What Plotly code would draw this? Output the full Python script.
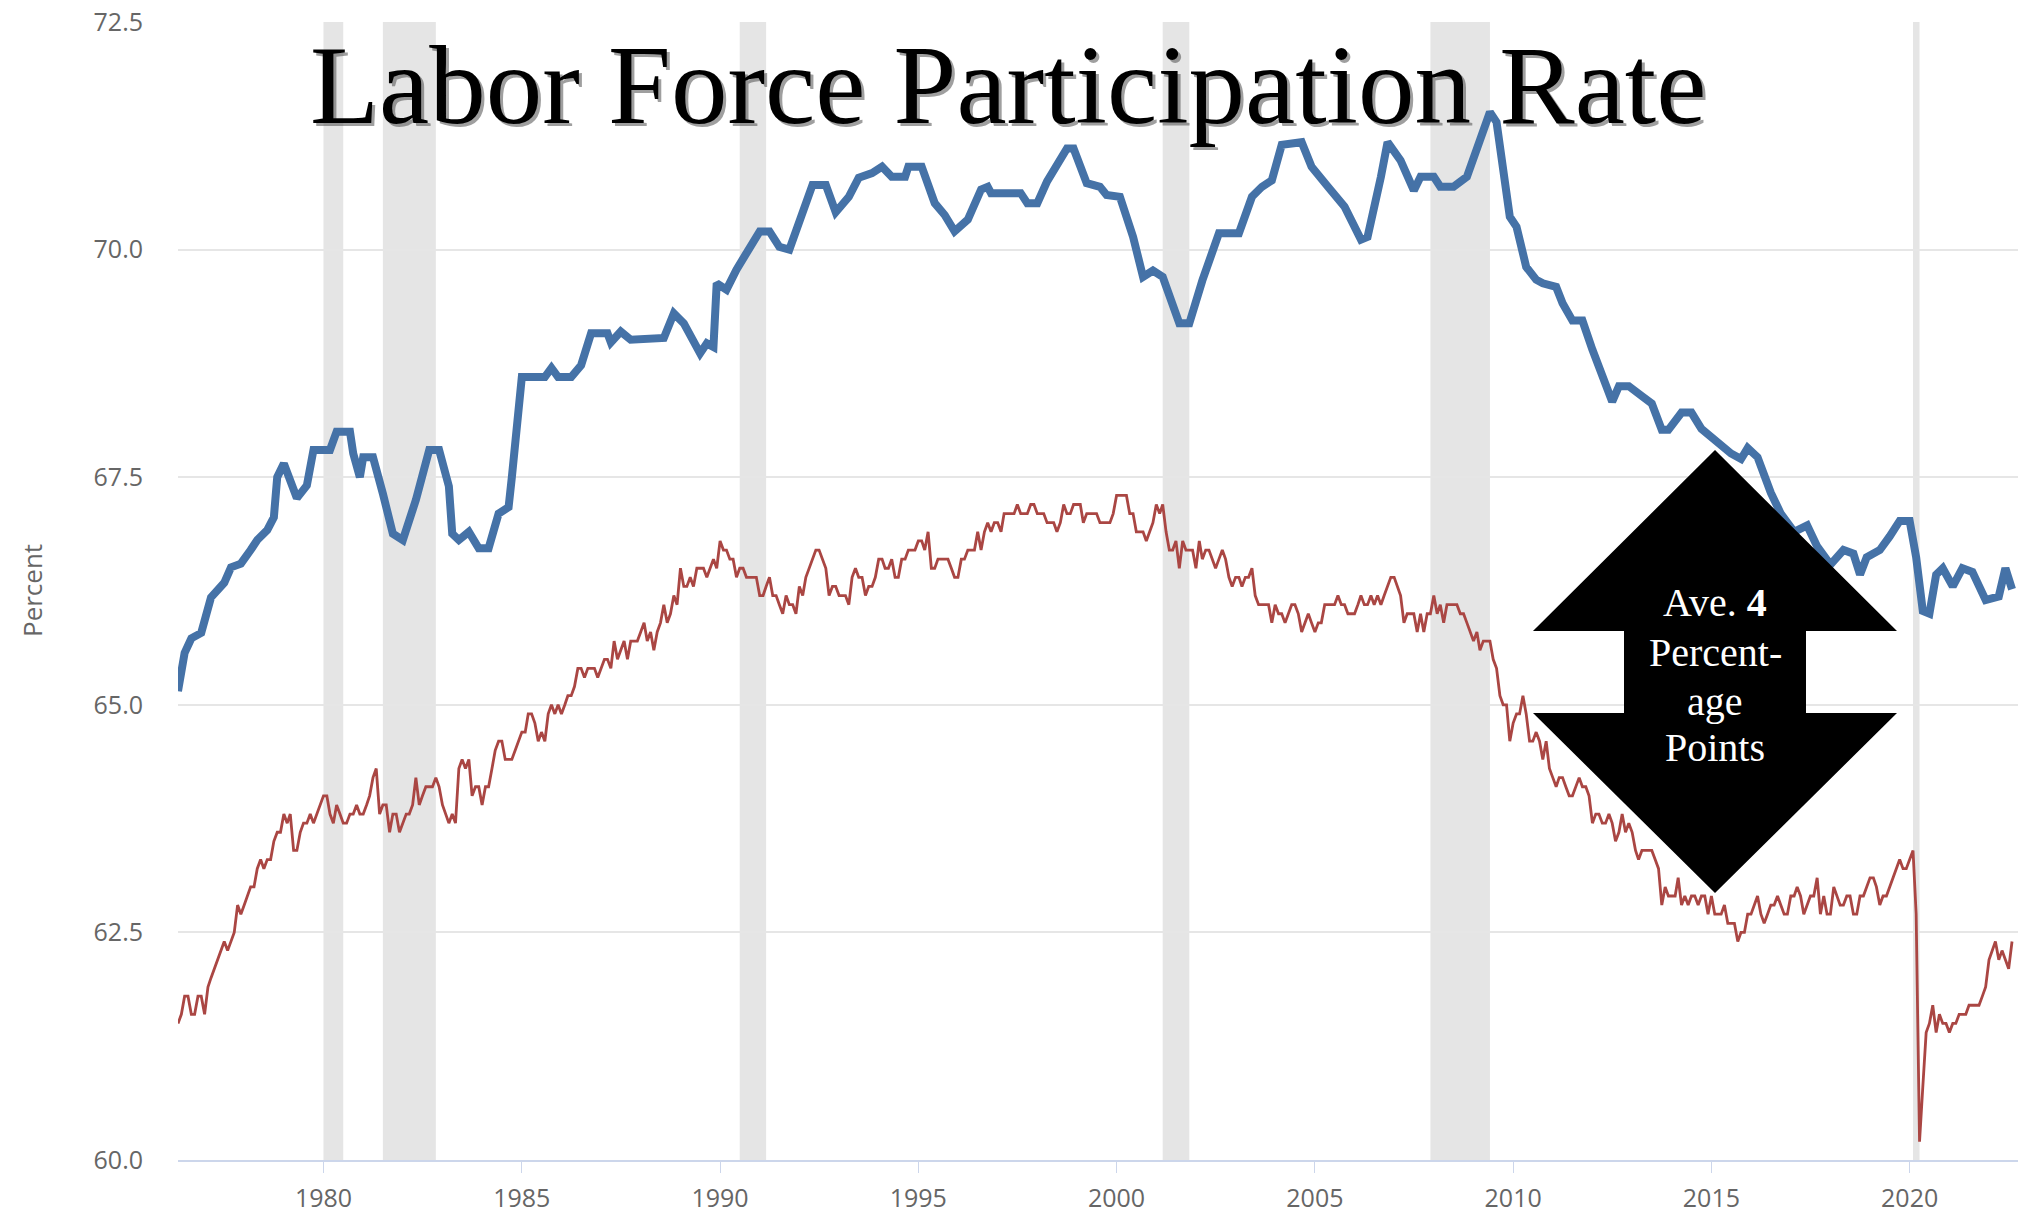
import pandas as pd
import plotly.graph_objects as go

# ---------------- data ----------------
# Civilian labour force participation rate (red), monthly from May 1976
civ_1976_1979 = [61.5, 61.6, 61.8, 61.8, 61.6, 61.6, 61.8, 61.8,
                 61.6, 61.9, 62.0, 62.1, 62.2, 62.3, 62.4, 62.3, 62.4, 62.5, 62.8, 62.7,
                 62.8, 62.9, 63.0, 63.0, 63.2, 63.3, 63.2, 63.3, 63.3, 63.5, 63.6, 63.6,
                 63.8, 63.7, 63.8, 63.4, 63.4, 63.6, 63.7, 63.7, 63.8, 63.7, 63.8, 63.9]
civ_1980s = [64.0, 64.0, 63.8, 63.7, 63.9, 63.8, 63.7, 63.7, 63.8, 63.8, 63.9, 63.8,
             63.8, 63.9, 64.0, 64.2, 64.3, 63.8, 63.9, 63.9, 63.6, 63.8, 63.8, 63.6,
             63.7, 63.8, 63.8, 63.9, 64.2, 63.9, 64.0, 64.1, 64.1, 64.1, 64.2, 64.1,
             63.9, 63.8, 63.7, 63.8, 63.7, 64.3, 64.4, 64.3, 64.4, 64.0, 64.1, 64.1,
             63.9, 64.1, 64.1, 64.3, 64.5, 64.6, 64.6, 64.4, 64.4, 64.4, 64.5, 64.6,
             64.7, 64.7, 64.9, 64.9, 64.8, 64.6, 64.7, 64.6, 64.9, 65.0, 64.9, 65.0,
             64.9, 65.0, 65.1, 65.1, 65.2, 65.4, 65.4, 65.3, 65.4, 65.4, 65.4, 65.3,
             65.4, 65.5, 65.5, 65.4, 65.7, 65.5, 65.6, 65.7, 65.5, 65.7, 65.7, 65.7,
             65.8, 65.9, 65.7, 65.8, 65.6, 65.8, 65.9, 66.1, 65.9, 66.0, 66.2, 66.1,
             66.5, 66.3, 66.3, 66.4, 66.3, 66.5, 66.5, 66.5, 66.4, 66.5, 66.6, 66.5]
civ_1990s = [66.8, 66.7, 66.7, 66.6, 66.6, 66.4, 66.5, 66.5, 66.4, 66.4, 66.4, 66.4,
             66.2, 66.2, 66.3, 66.4, 66.2, 66.2, 66.1, 66.0, 66.2, 66.1, 66.1, 66.0,
             66.3, 66.2, 66.4, 66.5, 66.6, 66.7, 66.7, 66.6, 66.5, 66.2, 66.3, 66.3,
             66.2, 66.2, 66.2, 66.1, 66.4, 66.5, 66.4, 66.4, 66.2, 66.3, 66.3, 66.4,
             66.6, 66.6, 66.5, 66.5, 66.6, 66.4, 66.4, 66.6, 66.6, 66.7, 66.7, 66.7,
             66.8, 66.8, 66.7, 66.9, 66.5, 66.5, 66.6, 66.6, 66.6, 66.6, 66.5, 66.4,
             66.4, 66.6, 66.6, 66.7, 66.7, 66.7, 66.9, 66.7, 66.9, 67.0, 66.9, 67.0,
             67.0, 66.9, 67.1, 67.1, 67.1, 67.1, 67.2, 67.1, 67.1, 67.1, 67.2, 67.2,
             67.1, 67.1, 67.1, 67.0, 67.0, 67.0, 66.9, 67.0, 67.2, 67.1, 67.1, 67.2,
             67.2, 67.2, 67.0, 67.1, 67.1, 67.1, 67.1, 67.0, 67.0, 67.0, 67.0, 67.1]
civ_2000s = [67.3, 67.3, 67.3, 67.3, 67.1, 67.1, 66.9, 66.9, 66.9, 66.8, 66.9, 67.0,
             67.2, 67.1, 67.2, 66.9, 66.7, 66.7, 66.8, 66.5, 66.8, 66.7, 66.7, 66.7,
             66.5, 66.8, 66.6, 66.7, 66.7, 66.6, 66.5, 66.6, 66.7, 66.6, 66.4, 66.3,
             66.4, 66.4, 66.3, 66.4, 66.4, 66.5, 66.2, 66.1, 66.1, 66.1, 66.1, 65.9,
             66.1, 66.0, 66.0, 65.9, 66.0, 66.1, 66.1, 66.0, 65.8, 65.9, 66.0, 65.9,
             65.8, 65.9, 65.9, 66.1, 66.1, 66.1, 66.1, 66.2, 66.1, 66.1, 66.0, 66.0,
             66.0, 66.1, 66.2, 66.1, 66.1, 66.2, 66.1, 66.2, 66.1, 66.2, 66.3, 66.4,
             66.4, 66.3, 66.2, 65.9, 66.0, 66.0, 66.0, 65.8, 66.0, 65.8, 66.0, 66.0,
             66.2, 66.0, 66.1, 65.9, 66.1, 66.1, 66.1, 66.1, 66.0, 66.0, 65.9, 65.8,
             65.7, 65.8, 65.6, 65.7, 65.7, 65.7, 65.5, 65.4, 65.1, 65.0, 65.0, 64.6]
civ_2010s = [64.8, 64.9, 64.9, 65.1, 64.9, 64.6, 64.6, 64.7, 64.6, 64.4, 64.6, 64.3,
             64.2, 64.1, 64.2, 64.2, 64.1, 64.0, 64.0, 64.1, 64.2, 64.1, 64.1, 64.0,
             63.7, 63.8, 63.8, 63.7, 63.7, 63.8, 63.7, 63.5, 63.6, 63.8, 63.6, 63.7,
             63.6, 63.4, 63.3, 63.4, 63.4, 63.4, 63.4, 63.3, 63.2, 62.8, 63.0, 62.9,
             62.9, 62.9, 63.1, 62.8, 62.9, 62.8, 62.9, 62.9, 62.8, 62.9, 62.9, 62.7,
             62.9, 62.7, 62.7, 62.7, 62.8, 62.6, 62.6, 62.6, 62.4, 62.5, 62.5, 62.7,
             62.7, 62.8, 62.9, 62.7, 62.6, 62.7, 62.8, 62.8, 62.9, 62.8, 62.7, 62.7,
             62.9, 62.9, 63.0, 62.9, 62.7, 62.8, 62.9, 62.9, 63.1, 62.7, 62.9, 62.7,
             62.7, 63.0, 62.9, 62.8, 62.8, 62.9, 62.9, 62.7, 62.7, 62.9, 62.9, 63.0,
             63.1, 63.1, 63.0, 62.8, 62.9, 62.9, 63.0, 63.1, 63.2, 63.3, 63.2, 63.2]
civ_2020s = [63.3, 63.4, 62.7, 60.2, 60.8, 61.4, 61.5, 61.7, 61.4, 61.6, 61.5, 61.5,
             61.4, 61.5, 61.5, 61.6, 61.6, 61.6, 61.7, 61.7, 61.7, 61.7, 61.8, 61.9,
             62.2, 62.3, 62.4, 62.2, 62.3, 62.2, 62.1, 62.4]

red_vals = civ_1976_1979 + civ_1980s + civ_1990s + civ_2000s + civ_2010s + civ_2020s
red_dates = pd.date_range("1976-05-01", periods=len(red_vals), freq="MS")

# Second series (blue), read at its turning points
st_dates_70s = ["1976-05", "1976-07", "1976-09", "1976-12", "1977-03", "1977-07", "1977-09",
                "1977-12", "1978-03", "1978-05", "1978-08", "1978-10", "1978-11", "1979-01",
                "1979-05", "1979-08", "1979-10"]
st_vals_70s = [65.15, 65.57, 65.73, 65.79, 66.18, 66.34, 66.51, 66.55, 66.70, 66.81, 66.92,
               67.06, 67.50, 67.65, 67.27, 67.41, 67.80]
st_dates_80s = ["1980-03", "1980-05", "1980-09", "1980-10", "1980-12", "1981-01", "1981-04",
                "1981-07", "1981-10", "1982-01", "1982-05", "1982-09", "1982-12", "1983-03",
                "1983-04", "1983-06", "1983-09", "1983-12", "1984-03", "1984-06", "1984-09",
                "1984-10", "1985-01", "1985-08", "1985-10", "1985-12", "1986-04", "1986-07",
                "1986-10", "1987-03", "1987-04", "1987-07", "1987-10", "1988-08", "1988-11",
                "1989-02", "1989-07", "1989-09", "1989-11", "1989-12"]
st_vals_80s = [67.80, 68.00, 68.00, 67.76, 67.50, 67.72, 67.72, 67.32, 66.88, 66.81, 67.25,
               67.80, 67.80, 67.40, 66.88, 66.81, 66.90, 66.72, 66.72, 67.10, 67.17, 67.50,
               68.60, 68.60, 68.70, 68.60, 68.60, 68.73, 69.08, 69.08, 68.98, 69.10, 69.01,
               69.03, 69.30, 69.19, 68.86, 68.97, 68.93, 69.63]
st_dates_90s = ["1990-03", "1990-06", "1990-09", "1991-01", "1991-04", "1991-07", "1991-10",
                "1992-01", "1992-05", "1992-09", "1992-12", "1993-04", "1993-07", "1993-11",
                "1994-02", "1994-05", "1994-09", "1994-10", "1995-02", "1995-06", "1995-09",
                "1995-12", "1996-04", "1996-08", "1996-10", "1996-11", "1997-08", "1997-10",
                "1998-01", "1998-04", "1998-07", "1998-10", "1998-12", "1999-04", "1999-08",
                "1999-10"]
st_vals_90s = [69.56, 69.78, 69.96, 70.20, 70.20, 70.03, 70.00, 70.29, 70.71, 70.71, 70.41,
               70.58, 70.79, 70.84, 70.91, 70.80, 70.80, 70.91, 70.91, 70.51, 70.38, 70.20,
               70.33, 70.66, 70.69, 70.62, 70.62, 70.51, 70.51, 70.75, 70.91, 71.11, 71.11,
               70.73, 70.69, 70.60]
st_dates_00s = ["2000-02", "2000-06", "2000-09", "2000-12", "2001-03", "2001-08", "2001-11",
                "2002-03", "2002-08", "2003-02", "2003-06", "2003-09", "2003-12", "2004-03",
                "2004-09", "2004-12", "2005-05", "2005-10", "2006-03", "2006-05", "2006-09",
                "2006-11", "2007-03", "2007-07", "2007-09", "2008-01", "2008-03", "2008-07",
                "2008-11", "2009-06", "2009-08", "2009-12"]
st_vals_00s = [70.58, 70.14, 69.70, 69.77, 69.70, 69.19, 69.19, 69.66, 70.18, 70.18, 70.58,
               70.69, 70.76, 71.15, 71.18, 70.91, 70.69, 70.47, 70.11, 70.14, 70.80, 71.18,
               70.98, 70.65, 70.80, 70.80, 70.69, 70.69, 70.80, 71.51, 71.40, 70.36]
st_dates_10s = ["2010-02", "2010-05", "2010-08", "2010-10", "2011-02", "2011-04", "2011-07",
                "2011-10", "2012-01", "2012-05", "2012-07", "2012-09", "2012-12", "2013-04",
                "2013-07", "2013-10", "2013-12", "2014-04", "2014-07", "2014-10", "2015-03",
                "2015-07", "2015-10", "2015-12", "2016-03", "2016-07", "2016-10", "2017-02",
                "2017-06", "2017-09", "2018-01", "2018-05", "2018-08", "2018-10", "2018-12",
                "2019-04", "2019-07", "2019-10"]
st_vals_10s = [70.25, 69.81, 69.67, 69.63, 69.59, 69.41, 69.22, 69.22, 68.90, 68.50, 68.33,
               68.50, 68.50, 68.39, 68.31, 68.02, 68.02, 68.21, 68.21, 68.03, 67.88, 67.76,
               67.70, 67.82, 67.72, 67.33, 67.10, 66.90, 66.97, 66.74, 66.54, 66.70, 66.66,
               66.43, 66.62, 66.70, 66.85, 67.02]
st_dates_20s = ["2020-01", "2020-03", "2020-05", "2020-07", "2020-09", "2020-11", "2021-02",
                "2021-05", "2021-08", "2021-12", "2022-04", "2022-06", "2022-08"]
st_vals_20s = [67.02, 66.62, 66.03, 66.00, 66.43, 66.50, 66.30, 66.50, 66.46, 66.15, 66.19,
               66.50, 66.27]

blue_dates = pd.to_datetime(st_dates_70s + st_dates_80s + st_dates_90s + st_dates_00s
                            + st_dates_10s + st_dates_20s)
blue_vals = st_vals_70s + st_vals_80s + st_vals_90s + st_vals_00s + st_vals_10s + st_vals_20s

recession_starts = ["1980-01-01", "1981-07-01", "1990-07-01", "2001-03-01", "2007-12-01", "2020-02-01"]
recession_ends = ["1980-07-01", "1982-11-01", "1991-03-01", "2001-11-01", "2009-06-01", "2020-04-01"]

y_ticks = [60.0, 62.5, 65.0, 67.5, 70.0, 72.5]
x_tick_years = [1980, 1985, 1990, 1995, 2000, 2005, 2010, 2015, 2020]

title_text = "Labor Force Participation Rate"
arrow_lines = ["Ave. <b>4</b>", "Percent-", "age", "Points"]

# ---------------- layout geometry ----------------
W, H = 2023, 1218
ML, MR, MT, MB = 178, 5, 22, 58
PW = W - ML - MR
PH = H - MT - MB


def px(x):
    return (x - ML) / PW


def py(y):
    return (H - MB - y) / PH


fig = go.Figure()

fig.add_trace(go.Scatter(x=red_dates, y=red_vals, mode="lines",
                         line=dict(color="#AA4643", width=2.8), hoverinfo="skip"))
fig.add_trace(go.Scatter(x=blue_dates, y=blue_vals, mode="lines",
                         line=dict(color="#4572A7", width=8), hoverinfo="skip"))

shapes = []
for s, e in zip(recession_starts, recession_ends):
    shapes.append(dict(type="rect", xref="x", yref="paper", x0=s, x1=e, y0=0, y1=1,
                       fillcolor="#e5e5e5", line=dict(width=0), layer="between"))

arrow_pts = [(1715, 450), (1897, 631), (1806, 631), (1806, 713), (1897, 713),
             (1715, 893), (1533, 713), (1624, 713), (1624, 631), (1533, 631)]
path = "M " + " L ".join(f"{px(x):.5f},{py(y):.5f}" for x, y in arrow_pts) + " Z"
shapes.append(dict(type="path", xref="paper", yref="paper", path=path,
                   fillcolor="black", line=dict(width=0), layer="above"))

annotations = []
# title shadow + title
annotations.append(dict(text=title_text, xref="paper", yref="paper", x=px(1008), y=py(85),
                        xanchor="center", yanchor="middle", showarrow=False, xshift=3, yshift=-3,
                        font=dict(family="Liberation Serif", size=113, color="rgba(80,80,80,0.55)")))
annotations.append(dict(text=title_text, xref="paper", yref="paper", x=px(1008), y=py(85),
                        xanchor="center", yanchor="middle", showarrow=False,
                        font=dict(family="Liberation Serif", size=113, color="black")))
for txt, yc in zip(arrow_lines, [603, 652, 701, 748]):
    annotations.append(dict(text=txt, xref="paper", yref="paper", x=px(1715), y=py(yc),
                            xanchor="center", yanchor="middle", showarrow=False,
                            font=dict(family="Liberation Serif", size=40, color="white")))
annotations.append(dict(text="Percent", xref="paper", yref="paper", x=px(32), y=0.5,
                        xanchor="center", yanchor="middle", showarrow=False, textangle=-90,
                        font=dict(family="Open Sans", size=26, color="#666666")))

fig.update_layout(
    width=W, height=H,
    margin=dict(l=ML, r=MR, t=MT, b=MB, autoexpand=False),
    paper_bgcolor="white", plot_bgcolor="white",
    showlegend=False,
    shapes=shapes, annotations=annotations,
    xaxis=dict(type="date", range=["1976-05-01", "2022-09-25"],
               tickvals=[f"{y}-01-01" for y in x_tick_years],
               ticktext=[str(y) for y in x_tick_years],
               showgrid=False, zeroline=False,
               showline=True, linecolor="#ccd6eb", linewidth=1.5,
               ticks="outside", ticklen=11, tickcolor="#ccd6eb", tickwidth=1,
               ticklabelstandoff=4,
               tickfont=dict(family="Open Sans", size=25, color="#666666")),
    yaxis=dict(range=[60, 72.5], tickvals=y_ticks,
               ticktext=[f"{v:.1f}" for v in y_ticks],
               showgrid=True, gridcolor="#e6e6e6", gridwidth=1.5, zeroline=False,
               showline=False, ticks="", ticklabelstandoff=34,
               tickfont=dict(family="Open Sans", size=25, color="#666666")),
)

fig.write_html("out.html", config={"displayModeBar": False},
               post_script="document.body.style.margin='0';document.body.style.overflow='hidden';")
